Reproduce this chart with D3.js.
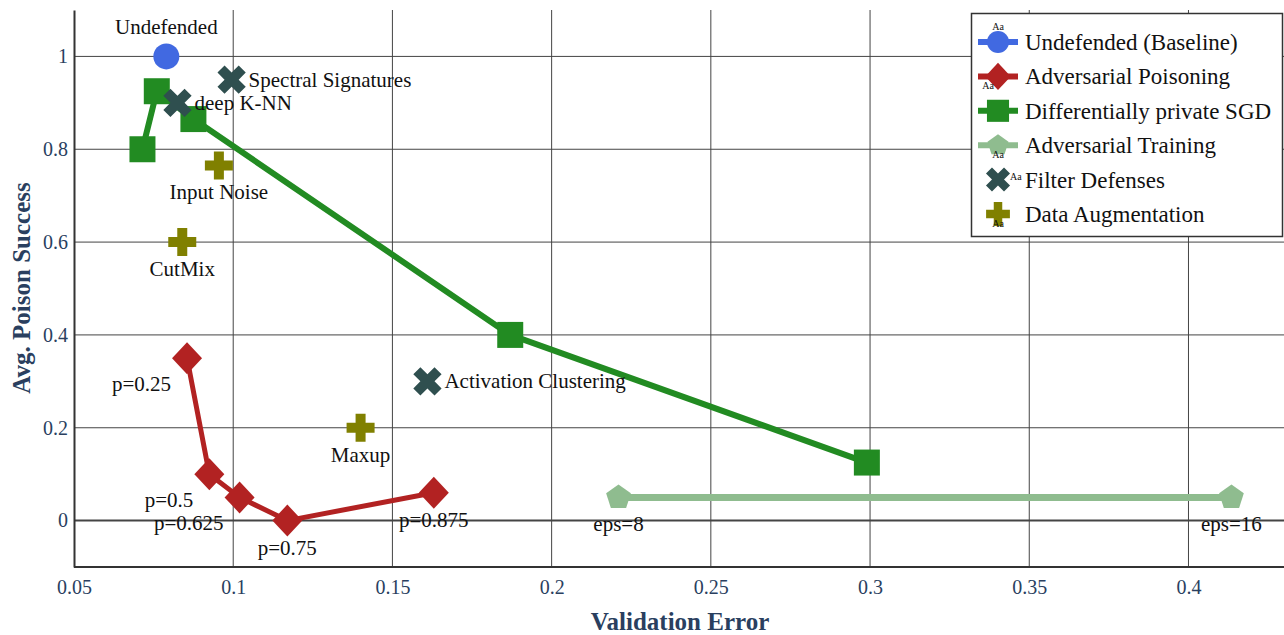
<!DOCTYPE html>
<html>
<head>
<meta charset="utf-8">
<script src="https://cdn.jsdelivr.net/npm/d3@7"></script>
<style>
  body { margin: 0; background: #fff; }
  text { font-family: "Liberation Serif", "DejaVu Serif", serif; }
</style>
</head>
<body>
<div id="chart"></div>
<script>
// values
var xTicks = [0.05, 0.1, 0.15, 0.2, 0.25, 0.3, 0.35, 0.4];
var yTicks = [0, 0.2, 0.4, 0.6, 0.8, 1];

var undefX = [0.079], undefY = [1.0], undefText = ["Undefended"];
var poisX = [0.0855, 0.0925, 0.102, 0.117, 0.163];
var poisY = [0.35, 0.1, 0.05, 0.0, 0.06];
var poisText = ["p=0.25", "p=0.5", "p=0.625", "p=0.75", "p=0.875"];
var dpX = [0.0715, 0.076, 0.0875, 0.187, 0.299];
var dpY = [0.8, 0.925, 0.865, 0.4, 0.125];
var advX = [0.221, 0.4135], advY = [0.05, 0.05], advText = ["eps=8", "eps=16"];
var filtX = [0.0995, 0.0825, 0.161], filtY = [0.95, 0.9, 0.3];
var filtText = ["Spectral Signatures", "deep K-NN", "Activation Clustering"];
var augX = [0.0955, 0.084, 0.14], augY = [0.765, 0.6, 0.2];
var augText = ["Input Noise", "CutMix", "Maxup"];

var seriesNames = ["Undefended (Baseline)", "Adversarial Poisoning", "Differentially private SGD",
                   "Adversarial Training", "Filter Defenses", "Data Augmentation"];

var W = 1284, H = 635;
var margin = {top: 10, right: 0, bottom: 68, left: 74};

var svg = d3.select("#chart").append("svg")
    .attr("width", W).attr("height", H);

var x = d3.scaleLinear().domain([0.05, 0.43]).range([margin.left, W - margin.right]);
var y = d3.scaleLinear().domain([-0.1, 1.1]).range([H - margin.bottom, margin.top]);

var tickColor = "#2a3f5f";

// grid
svg.append("g")
  .selectAll("line").data(xTicks.slice(1)).enter().append("line")
    .attr("x1", function(d) { return x(d); }).attr("x2", function(d) { return x(d); })
    .attr("y1", y(1.1)).attr("y2", y(-0.1))
    .attr("stroke", "#444").attr("stroke-width", 1);
svg.append("g")
  .selectAll("line").data(yTicks).enter().append("line")
    .attr("x1", x(0.05)).attr("x2", W)
    .attr("y1", function(d) { return y(d); }).attr("y2", function(d) { return y(d); })
    .attr("stroke", "#444").attr("stroke-width", function(d) { return d === 0 ? 2 : 1; });

// axes
var xAxis = svg.append("g")
    .attr("transform", "translate(0," + y(-0.1) + ")")
    .call(d3.axisBottom(x).tickValues(xTicks).tickSize(0).tickPadding(13).tickFormat(d3.format("")));
var yAxis = svg.append("g")
    .attr("transform", "translate(" + x(0.05) + ",0)")
    .call(d3.axisLeft(y).tickValues(yTicks).tickSize(0).tickPadding(6).tickFormat(d3.format("")));
[xAxis, yAxis].forEach(function(a) {
  a.select(".domain").attr("stroke", "#333").attr("stroke-width", 2);
  a.selectAll("text").attr("font-size", 20).attr("fill", tickColor)
    .style("font-family", "'Liberation Serif', serif");
});
xAxis.select(".domain").attr("d", "M" + x(0.05) + ",0H" + W);

svg.append("text")
    .attr("x", 680).attr("y", 630)
    .attr("text-anchor", "middle").attr("font-size", 25).attr("font-weight", "bold")
    .attr("fill", tickColor).text("Validation Error");
svg.append("text")
    .attr("transform", "translate(30," + 288 + ") rotate(-90)")
    .attr("text-anchor", "middle").attr("font-size", 25).attr("font-weight", "bold")
    .attr("fill", tickColor).text("Avg. Poison Success");

// marker shapes
function pentagon(r) {
  var pts = d3.range(5).map(function(i) {
    var a = -Math.PI / 2 + i * 2 * Math.PI / 5;
    return [r * Math.cos(a), r * Math.sin(a)];
  });
  return "M" + pts.join("L") + "Z";
}
function crossPath(L, w) {
  return "M" + (-w) + "," + (-L) + "H" + w + "V" + (-w) + "H" + L + "V" + w + "H" + w +
         "V" + L + "H" + (-w) + "V" + w + "H" + (-L) + "V" + (-w) + "H" + (-w) + "Z";
}
var shapes = {
  circle: function() { return d3.symbol(d3.symbolCircle, 530)(); },
  diamond: function() { return "M0,-16L15,0L0,16L-15,0Z"; },
  square: function() { return "M-13,-13H13V13H-13Z"; },
  pentagon: function() { return pentagon(13); },
  x: function() { return crossPath(15, 5); },
  cross: function() { return crossPath(14, 5); }
};
var rot = {x: 45};

var series = [
  {xs: undefX, ys: undefY, text: undefText, pos: ["top"], color: "#4169e1", shape: "circle", line: 0},
  {xs: poisX, ys: poisY, text: poisText, pos: ["bl", "bl", "bl", "bottom", "bottom"], color: "#b22222", shape: "diamond", line: 5},
  {xs: dpX, ys: dpY, text: [], pos: [], color: "#228b22", shape: "square", line: 6},
  {xs: advX, ys: advY, text: advText, pos: ["bottom", "bottom"], color: "#8fbc8f", shape: "pentagon", line: 7},
  {xs: filtX, ys: filtY, text: filtText, pos: ["right", "right", "right"], color: "#2f4f4f", shape: "x", line: 0},
  {xs: augX, ys: augY, text: augText, pos: ["bottom", "bottom", "bottom"], color: "#808000", shape: "cross", line: 0}
];

var lineGen = d3.line().x(function(d) { return x(d[0]); }).y(function(d) { return y(d[1]); });

series.forEach(function(s) {
  var pts = s.xs.map(function(v, i) { return [v, s.ys[i]]; });
  if (s.line) {
    svg.append("path").datum(pts)
      .attr("d", lineGen).attr("fill", "none")
      .attr("stroke", s.color).attr("stroke-width", s.line).attr("stroke-linejoin", "round");
  }
  svg.append("g").selectAll("path").data(pts).enter().append("path")
    .attr("transform", function(d) {
      return "translate(" + x(d[0]) + "," + y(d[1]) + ") rotate(" + (rot[s.shape] || 0) + ")";
    })
    .attr("d", shapes[s.shape]())
    .attr("fill", s.color);
  s.text.forEach(function(t, i) {
    var px = x(s.xs[i]), py = y(s.ys[i]);
    var el = svg.append("text").attr("font-size", 21).attr("fill", "#111").text(t);
    var p = s.pos[i];
    if (p === "top") el.attr("x", px).attr("y", py - 22).attr("text-anchor", "middle");
    else if (p === "bottom") el.attr("x", px).attr("y", py + 34).attr("text-anchor", "middle");
    else if (p === "right") el.attr("x", px + 17).attr("y", py + 7).attr("text-anchor", "start");
    else if (p === "bl") el.attr("x", px - 16).attr("y", py + 33).attr("text-anchor", "end");
  });
});

// legend
var lg = svg.append("g");
lg.append("rect").attr("x", 971.5).attr("y", 13.5).attr("width", 311).attr("height", 223)
  .attr("fill", "#fff").attr("stroke", "#333").attr("stroke-width", 1.5);
var legAa = [[998, 30, "middle"], [988, 89, "middle"], null, [998, 158, "middle"], [1010, 180, "start"], [998, 227, "middle"]];
series.forEach(function(s, i) {
  var cy = 42 + i * 34.4;
  if (i < 4) {
    lg.append("line").attr("x1", 978).attr("x2", 1018).attr("y1", cy).attr("y2", cy)
      .attr("stroke", s.color).attr("stroke-width", 6);
  }
  lg.append("path").attr("transform", "translate(998," + cy + ") rotate(" + (rot[s.shape] || 0) + ") scale(0.85)")
    .attr("d", shapes[s.shape]()).attr("fill", s.color);
  lg.append("text").attr("x", 1025).attr("y", cy + 8).attr("font-size", 23).attr("fill", "#111")
    .text(seriesNames[i]);
  if (legAa[i]) {
    lg.append("text").attr("x", legAa[i][0]).attr("y", legAa[i][1]).attr("font-size", 10)
      .attr("text-anchor", legAa[i][2]).attr("fill", "#111").text("Aa");
  }
});
</script>
</body>
</html>
